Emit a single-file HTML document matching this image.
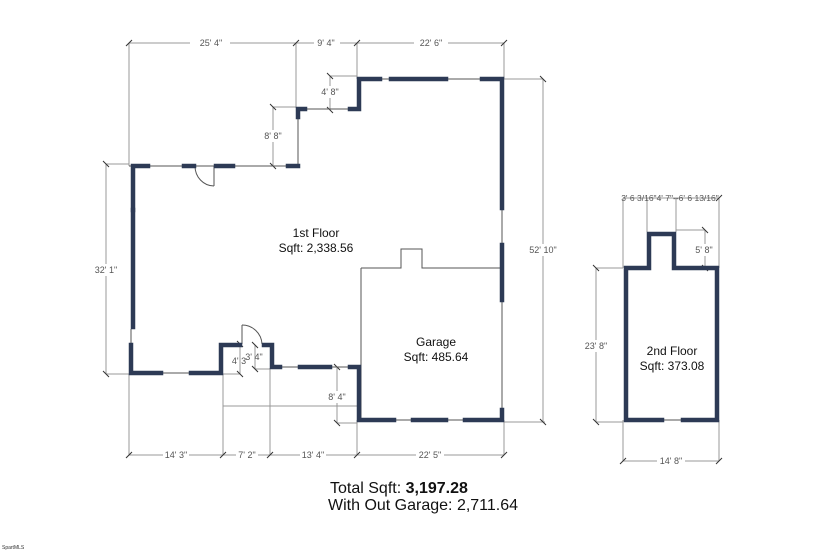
<!DOCTYPE html>
<html><head><meta charset="utf-8"><style>
html,body{margin:0;padding:0;background:#fff;}
svg{display:block;font-family:"Liberation Sans",sans-serif;}
.t{stroke:#999;stroke-width:1;fill:none}
.w{stroke:#2d3a55;stroke-width:4.5;fill:none;stroke-linecap:square}
.l{stroke:#555;stroke-width:1;fill:none}
.d{font-size:9px;fill:#555;text-anchor:middle}
.lb{font-size:12px;fill:#111;text-anchor:middle}
.k{stroke:#333;stroke-width:1}
</style></head><body>
<svg width="825" height="550" viewBox="0 0 825 550">
<line class="t" x1="129" y1="43" x2="504" y2="43"/>
<line class="t" x1="129" y1="43" x2="129" y2="166"/>
<line class="t" x1="296" y1="43" x2="296" y2="108"/>
<line class="t" x1="357" y1="43" x2="357" y2="79"/>
<line class="t" x1="504" y1="43" x2="504" y2="79"/>
<g class="k"><line x1="126" y1="46" x2="132" y2="40"/><line x1="293" y1="46" x2="299" y2="40"/><line x1="354" y1="46" x2="360" y2="40"/><line x1="501" y1="46" x2="507" y2="40"/></g>
<rect x="190" y="37" width="40" height="12" fill="#fff"/><text class="d" x="211" y="46">25' 4"</text>
<rect x="314" y="37" width="26" height="12" fill="#fff"/><text class="d" x="326" y="46">9' 4"</text>
<rect x="414" y="37" width="34" height="12" fill="#fff"/><text class="d" x="431" y="46">22' 6"</text>
<line class="t" x1="504" y1="79" x2="543" y2="79"/>
<line class="t" x1="543" y1="79" x2="543" y2="422"/>
<line class="t" x1="504" y1="422" x2="545" y2="422"/>
<g class="k"><line x1="540" y1="76" x2="546" y2="82"/><line x1="540" y1="419" x2="546" y2="425"/></g>
<rect x="526" y="244" width="36" height="12" fill="#fff"/><text class="d" x="543" y="253">52' 10"</text>
<line class="t" x1="330" y1="76" x2="357" y2="76"/>
<line class="t" x1="330" y1="76" x2="330" y2="110"/>
<g class="k"><line x1="327" y1="73" x2="333" y2="79"/><line x1="327" y1="107" x2="333" y2="113"/></g>
<rect x="319" y="86" width="22" height="12" fill="#fff"/><text class="d" x="330" y="95">4' 8"</text>
<line class="t" x1="273" y1="107" x2="296" y2="107"/>
<line class="t" x1="273" y1="107" x2="273" y2="166"/>
<g class="k"><line x1="270" y1="104" x2="276" y2="110"/><line x1="270" y1="163" x2="276" y2="169"/></g>
<rect x="262" y="130" width="22" height="12" fill="#fff"/><text class="d" x="273" y="139">8' 8"</text>
<line class="t" x1="106" y1="164" x2="129" y2="164"/>
<line class="t" x1="106" y1="164" x2="106" y2="374"/>
<line class="t" x1="106" y1="374" x2="129" y2="374"/>
<g class="k"><line x1="103" y1="161" x2="109" y2="167"/><line x1="103" y1="371" x2="109" y2="377"/></g>
<rect x="90" y="264" width="32" height="12" fill="#fff"/><text class="d" x="106" y="273">32' 1"</text>
<line class="t" x1="129" y1="455" x2="504" y2="455"/>
<line class="t" x1="129" y1="374" x2="129" y2="455"/>
<line class="t" x1="223" y1="374" x2="223" y2="455"/>
<line class="t" x1="270" y1="368" x2="270" y2="455"/>
<line class="t" x1="357" y1="420" x2="357" y2="455"/>
<line class="t" x1="504" y1="420" x2="504" y2="455"/>
<g class="k"><line x1="126" y1="458" x2="132" y2="452"/><line x1="220" y1="458" x2="226" y2="452"/><line x1="267" y1="458" x2="273" y2="452"/><line x1="354" y1="458" x2="360" y2="452"/><line x1="501" y1="458" x2="507" y2="452"/></g>
<rect x="163" y="449" width="26" height="12" fill="#fff"/><text class="d" x="176" y="458">14' 3"</text>
<rect x="236" y="449" width="22" height="12" fill="#fff"/><text class="d" x="247" y="458">7' 2"</text>
<rect x="300" y="449" width="26" height="12" fill="#fff"/><text class="d" x="313" y="458">13' 4"</text>
<rect x="416" y="449" width="28" height="12" fill="#fff"/><text class="d" x="430" y="458">22' 5"</text>
<line class="t" x1="337" y1="367" x2="337" y2="423"/>
<line class="t" x1="337" y1="423" x2="357" y2="423"/>
<g class="k"><line x1="334" y1="364" x2="340" y2="370"/><line x1="334" y1="420" x2="340" y2="426"/></g>
<rect x="326" y="391" width="22" height="12" fill="#fff"/><text class="d" x="337" y="400">8' 4"</text>
<line class="t" x1="240" y1="344" x2="240" y2="374"/><line class="t" x1="223" y1="374" x2="240" y2="374"/>
<line class="t" x1="255" y1="345" x2="255" y2="369"/><line class="t" x1="255" y1="369" x2="270" y2="369"/>
<g class="k"><line x1="237" y1="341" x2="243" y2="347"/><line x1="237" y1="371" x2="243" y2="377"/><line x1="252" y1="342" x2="258" y2="348"/><line x1="252" y1="366" x2="258" y2="372"/></g>
<text class="d" x="239" y="364">4' 3</text><text class="d" x="254" y="360">3' 4"</text>
<line class="t" x1="223" y1="406" x2="357" y2="406"/>
<line class="l" x1="129" y1="166" x2="290" y2="166"/>
<line class="l" x1="298" y1="118" x2="298" y2="166"/>
<line class="l" x1="300" y1="109" x2="350" y2="109"/>
<line class="l" x1="502" y1="210" x2="502" y2="410"/>
<line class="l" x1="131" y1="329" x2="131" y2="343"/>
<line class="l" x1="160" y1="373" x2="192" y2="373"/>
<line class="l" x1="280" y1="367" x2="352" y2="367"/>
<line class="l" x1="390" y1="420" x2="470" y2="420"/>
<line class="l" x1="357" y1="79" x2="504" y2="79"/>
<line class="l" x1="361" y1="268" x2="361" y2="420"/>
<polyline class="l" points="361,268 401,268 401,249 422,249 422,268 500,268"/>
<line class="l" x1="242" y1="344" x2="242" y2="325"/>
<path class="l" d="M242,325 A20,20 0 0 1 262,344"/>
<line class="l" x1="214" y1="166" x2="214" y2="186"/>
<path class="l" d="M195,166 A19,20 0 0 0 214,186"/>
<g class="w">
<polyline points="133,210 133,166 148,166"/>
<line x1="133" y1="210" x2="133" y2="327"/>
<line x1="184" y1="166" x2="194" y2="166"/>
<line x1="216" y1="166" x2="233" y2="166"/>
<line x1="288" y1="166" x2="298" y2="166"/>
<polyline points="298,117 298,109 305,109"/>
<polyline points="350,109 359,109 359,79 380,79"/>
<line x1="391" y1="79" x2="446" y2="79"/>
<polyline points="482,79 502,79 502,208"/>
<line x1="502" y1="245" x2="502" y2="300"/>
<polyline points="131,345 131,373 161,373"/>
<polyline points="191,373 221,373 221,345 240,345"/>
<polyline points="264,345 272,345 272,367 280,367"/>
<line x1="300" y1="367" x2="330" y2="367"/>
<polyline points="350,367 359,367 359,420 394,420"/>
<line x1="413" y1="420" x2="446" y2="420"/>
<polyline points="465,420 502,420 502,410"/>
</g>
<text class="lb" x="316" y="237">1st Floor</text>
<text class="lb" x="316" y="252">Sqft: 2,338.56</text>
<text class="lb" x="436" y="346">Garage</text>
<text class="lb" x="436" y="361">Sqft: 485.64</text>
<line class="t" x1="623" y1="198" x2="719" y2="198"/>
<line class="t" x1="623" y1="198" x2="623" y2="268"/>
<line class="t" x1="647" y1="198" x2="647" y2="232"/>
<line class="t" x1="676" y1="198" x2="676" y2="232"/>
<line class="t" x1="719" y1="198" x2="719" y2="268"/>
<g class="k"><line x1="716" y1="201" x2="722" y2="195"/></g>
<text class="d" x="670" y="201" style="font-size:8.5px">3' 6 3/16"4' 7"--6' 6 13/16"</text>
<line class="t" x1="676" y1="230" x2="705" y2="230"/>
<line class="t" x1="705" y1="230" x2="705" y2="268"/>
<g class="k"><line x1="702" y1="227" x2="708" y2="233"/><line x1="702" y1="265" x2="708" y2="271"/></g>
<rect x="694" y="244" width="22" height="12" fill="#fff"/><text class="d" x="704" y="253">5' 8"</text>
<line class="t" x1="596" y1="268" x2="623" y2="268"/>
<line class="t" x1="596" y1="268" x2="596" y2="422"/>
<line class="t" x1="596" y1="422" x2="623" y2="422"/>
<g class="k"><line x1="593" y1="265" x2="599" y2="271"/><line x1="593" y1="419" x2="599" y2="425"/></g>
<rect x="582" y="340" width="28" height="12" fill="#fff"/><text class="d" x="596" y="349">23' 8"</text>
<line class="t" x1="623" y1="420" x2="623" y2="461"/><line class="t" x1="719" y1="420" x2="719" y2="461"/>
<line class="t" x1="623" y1="461" x2="719" y2="461"/>
<g class="k"><line x1="620" y1="464" x2="626" y2="458"/><line x1="716" y1="464" x2="722" y2="458"/></g>
<rect x="657" y="455" width="28" height="12" fill="#fff"/><text class="d" x="671" y="464">14' 8"</text>
<line class="l" x1="662" y1="420" x2="682" y2="420"/>
<g class="w">
<polyline points="662,420 626,420 626,268 649,268 649,234 674,234 674,268 717,268 717,420 683,420"/>
</g>
<text class="lb" x="672" y="355">2nd Floor</text>
<text class="lb" x="672" y="370">Sqft: 373.08</text>
<text x="330" y="493" style="font-size:16px;fill:#111">Total Sqft: <tspan font-weight="bold">3,197.28</tspan></text>
<text x="328" y="510" style="font-size:16px;fill:#111">With Out Garage: 2,711.64</text>
<text x="2" y="549" style="font-size:5px;fill:#333">SpartMLS</text>
</svg>
</body></html>
